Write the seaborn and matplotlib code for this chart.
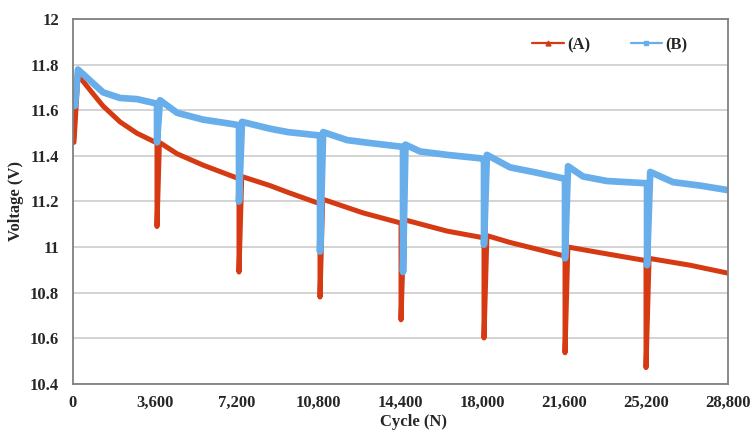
import matplotlib
matplotlib.use("Agg")
import matplotlib.pyplot as plt
from matplotlib.lines import Line2D
from matplotlib.ticker import FuncFormatter, MultipleLocator
import pandas as pd
import seaborn as sns

# values
cycle_a = [44, 220, 748, 1319, 2067, 2814, 3694, 3694, 3800, 4573, 5716, 7035, 7299,
           7299, 7420, 8662, 9454, 10861, 10861, 10980, 12752, 14423, 14423, 14560,
           16445, 18072, 18072, 18200, 19216, 21634, 21634, 21760, 23173, 25196,
           25196, 25330, 27131, 28800]
volt_a = [11.46, 11.756, 11.69, 11.62, 11.55, 11.50, 11.457, 11.09, 11.46, 11.41, 11.36,
          11.31, 11.30, 10.89, 11.31, 11.27, 11.24, 11.19, 10.78, 11.21, 11.15, 11.105,
          10.68, 11.12, 11.07, 11.04, 10.60, 11.05, 11.02, 10.96, 10.535, 11.00, 10.975,
          10.94, 10.47, 10.95, 10.92, 10.885]

cycle_b = [88, 220, 1319, 2067, 2814, 3694, 3694, 3826, 4573, 5716, 7035, 7299, 7299,
           7431, 8662, 9454, 10861, 10861, 11000, 12048, 13059, 14511, 14511, 14620,
           15258, 16445, 17896, 18072, 18072, 18200, 19216, 20227, 21634, 21634, 21766,
           22425, 23480, 25240, 25240, 25380, 26383, 27570, 28800]
volt_b = [11.62, 11.78, 11.68, 11.655, 11.65, 11.63, 11.46, 11.645, 11.59, 11.56, 11.54,
          11.535, 11.20, 11.55, 11.52, 11.505, 11.49, 10.98, 11.505, 11.47, 11.457, 11.44,
          10.89, 11.45, 11.42, 11.405, 11.39, 11.385, 11.01, 11.405, 11.35, 11.33, 11.30,
          10.95, 11.355, 11.31, 11.29, 11.28, 10.92, 11.33, 11.285, 11.27, 11.25]

x_ticks = list(range(0, 28801, 3600))

red = "#D53A13"
blue = "#67AEEA"

sns.set_style("white")
plt.rcParams["font.family"] = ["Liberation Serif", "DejaVu Serif"]
plt.rcParams["font.weight"] = "bold"

fig = plt.figure(figsize=(7.54, 4.36), dpi=100)
ax = fig.add_axes([0.0968, 0.1204, 0.8687, 0.8349])

df_a = pd.DataFrame({"cycle": cycle_a, "voltage": volt_a})
df_b = pd.DataFrame({"cycle": cycle_b, "voltage": volt_b})
sns.lineplot(data=df_a, x="cycle", y="voltage", color=red, linewidth=3.6,
             sort=False, estimator=None, ax=ax, solid_joinstyle="round")
sns.lineplot(data=df_b, x="cycle", y="voltage", color=blue, linewidth=4.8,
             sort=False, estimator=None, ax=ax, solid_joinstyle="round")

ax.set_xlim(0, 28800)
ax.set_ylim(10.4, 12)
ax.set_xticks(x_ticks)
ax.xaxis.set_major_formatter(FuncFormatter(lambda v, p: f"{int(v):,}"))
ax.yaxis.set_major_locator(MultipleLocator(0.2))
ax.yaxis.set_major_formatter(FuncFormatter(lambda v, p: f"{round(v, 1):g}"))
ax.grid(axis="y", color="#c8c8c8", linewidth=1.1)
ax.set_axisbelow(True)

for s in ax.spines.values():
    s.set_color("#808080")
    s.set_linewidth(1.3)

ax.tick_params(axis="y", length=4, color="#808080", width=1, pad=6, labelsize=12)
ax.tick_params(axis="x", length=0, pad=8, labelsize=12)
for lbl in ax.get_xticklabels() + ax.get_yticklabels():
    lbl.set_fontweight("bold")

ax.set_xlabel("Cycle (N)", fontsize=12, fontweight="bold", labelpad=2)
ax.set_ylabel("Voltage (V)", fontsize=12, fontweight="bold", labelpad=4)
ax.xaxis.set_label_coords(0.52, -0.085)

handles = [
    Line2D([], [], color=red, marker="^", markersize=3.5, linewidth=1.6),
    Line2D([], [], color=blue, marker="s", markersize=3.5, linewidth=1.6),
]
ax.legend(handles, ["(A)", "(B)"], loc="center", bbox_to_anchor=(0.82, 0.93),
          ncol=2, frameon=False, handlelength=1.9, handletextpad=0.2,
          columnspacing=2.4, prop={"weight": "bold", "size": 12})

fig.savefig("out.png", dpi=100)
plt.close(fig)
